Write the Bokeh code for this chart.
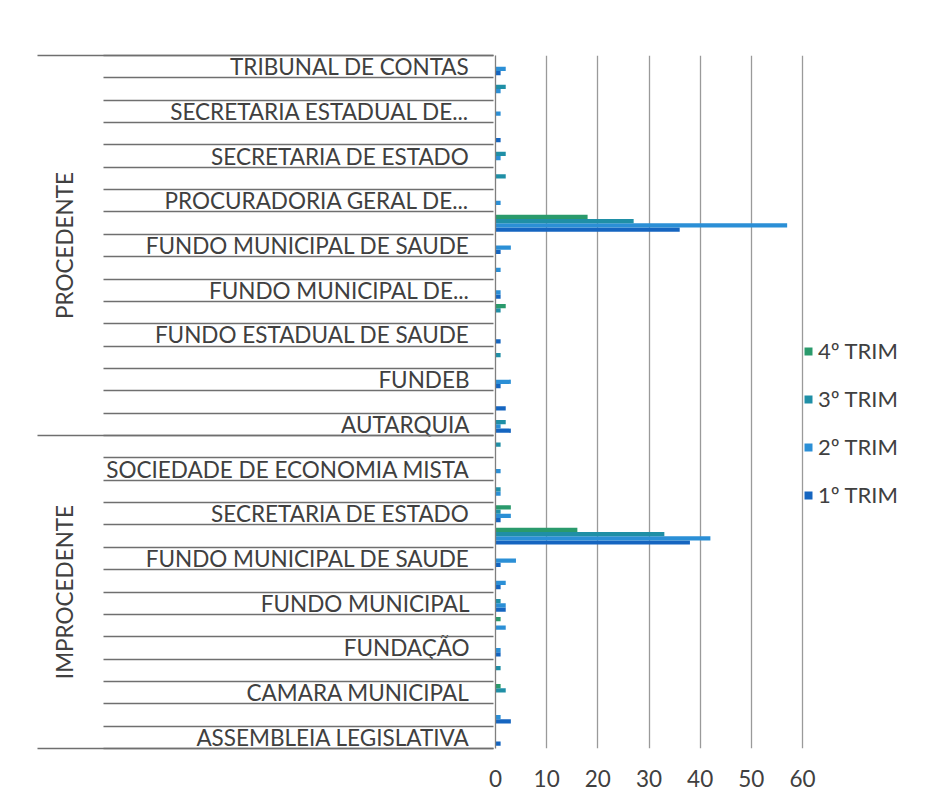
from bokeh.plotting import figure
from bokeh.models import Range1d, FixedTicker, LinearAxis, Legend, LegendItem, ColumnDataSource
from bokeh.transform import dodge
from bokeh.embed import file_html
from bokeh.resources import INLINE

# ---- data (bottom -> top, as drawn) ----
groups = ["IMPROCEDENTE"] * 14 + ["PROCEDENTE"] * 17
categories = [
    # IMPROCEDENTE
    "ASSEMBLEIA LEGISLATIVA", "AUTARQUIA", "CAMARA MUNICIPAL", "EMPRESA PUBLICA",
    "FUNDAÇÃO", "FUNDEB", "FUNDO MUNICIPAL", "FUNDO MUNICIPAL DE PREVIDENCIA",
    "FUNDO MUNICIPAL DE SAUDE", "PREFEITURA MUNICIPAL", "SECRETARIA DE ESTADO",
    "SECRETARIA ESTADUAL DE SAUDE", "SOCIEDADE DE ECONOMIA MISTA", "TRIBUNAL DE CONTAS",
    # PROCEDENTE
    "AUTARQUIA", "CAMARA MUNICIPAL", "FUNDEB", "FUNDO DE PREVIDENCIA",
    "FUNDO ESTADUAL DE SAUDE", "FUNDO MUNICIPAL", "FUNDO MUNICIPAL DE...",
    "FUNDO MUNICIPAL DE PREVIDENCIA", "FUNDO MUNICIPAL DE SAUDE", "PREFEITURA MUNICIPAL",
    "PROCURADORIA GERAL DE...", "SECRETARIA DA FAZENDA", "SECRETARIA DE ESTADO",
    "SECRETARIA DE ESTADO DE SAUDE", "SECRETARIA ESTADUAL DE...",
    "SOCIEDADE DE ECONOMIA MISTA", "TRIBUNAL DE CONTAS",
]
trim1 = [1, 3, 0, 0, 1, 0, 2, 1, 1, 38, 1, 0, 0, 0,
         3, 2, 1, 0, 1, 0, 1, 0, 1, 36, 0, 0, 0, 1, 0, 0, 1]
trim2 = [0, 1, 0, 0, 1, 2, 2, 2, 4, 42, 3, 1, 1, 0,
         1, 0, 3, 0, 0, 0, 1, 1, 3, 57, 1, 0, 1, 0, 1, 1, 2]
trim3 = [0, 0, 2, 1, 0, 0, 1, 0, 0, 33, 1, 1, 0, 1,
         2, 0, 0, 1, 0, 1, 0, 0, 0, 27, 0, 2, 2, 0, 0, 2, 0]
trim4 = [0, 0, 1, 0, 0, 1, 0, 0, 0, 16, 3, 0, 0, 0,
         0, 0, 0, 0, 0, 2, 0, 0, 0, 18, 0, 0, 0, 0, 0, 0, 0]
series_names = ["1º TRIM", "2º TRIM", "3º TRIM", "4º TRIM"]
colors = ["#1565c0", "#2b8fd6", "#1f8fa6", "#2a9a6c"]
x_ticks = [0, 10, 20, 30, 40, 50, 60]

FONT = "Lato"
TEXT = "#404040"
LINE = "#6f6f6f"
FS = "22.5px"
LABEL_STANDOFF = 26
LABEL_AREA = 390      # standoff + widest category label, in px
GROUP_EXT = 66
W, H = 914, 791
LEFT, TOP, FRAME_H = 495, 55, 693
PLOT_W = 307                      # px from value 0 to value 60
FRAME_W = W - LEFT                # frame also holds the legend strip on the right
X_MAX = x_ticks[-1]
X_END = X_MAX * FRAME_W / PLOT_W

n = len(categories)
ypos = list(range(n))
src = ColumnDataSource(dict(y=ypos, t1=trim1, t2=trim2, t3=trim3, t4=trim4))

p = figure(width=W, height=H, output_backend="svg", toolbar_location=None,
           x_range=Range1d(0, X_END), y_range=Range1d(-0.5, n - 0.5),
           min_border_left=LEFT, min_border_right=0,
           min_border_top=TOP, min_border_bottom=H - TOP - FRAME_H)
p.outline_line_color = None
p.background_fill_color = "white"
p.border_fill_color = "white"

bar_h = 0.19
offsets = [-0.285, -0.095, 0.095, 0.285]
renderers = []
for col, off, c in zip(["t1", "t2", "t3", "t4"], offsets, colors):
    r = p.hbar(y=dodge("y", off, range=p.y_range), right=col, left=0, height=bar_h,
               source=src, fill_color=c, line_color=None)
    renderers.append(r)

# x axis
p.xaxis.ticker = FixedTicker(ticks=x_ticks)
p.xaxis.axis_line_color = None
p.xaxis.major_tick_line_color = None
p.xaxis.minor_tick_line_color = None
p.xaxis.major_label_text_font = FONT
p.xaxis.major_label_text_font_size = FS
p.xaxis.major_label_text_color = TEXT
p.xaxis.major_label_standoff = 15

p.xgrid.ticker = FixedTicker(ticks=x_ticks)
p.xgrid.grid_line_color = "#9a9a9a"
p.xgrid.grid_line_width = 1.3
p.ygrid.visible = False

# inner (category label) y axis
label_idx = [i for i in range(n) if i % 2 == 0]
boundaries = [k - 0.5 for k in range(n + 1)]
yax = p.yaxis[0]
yax.ticker = FixedTicker(ticks=label_idx)
yax.major_label_overrides = {i: categories[i] for i in label_idx}
yax.major_tick_line_color = None
yax.minor_tick_line_color = None
yax.major_tick_out = 0
yax.major_tick_in = 0
yax.axis_line_color = "#7f7f7f"
yax.axis_line_width = 1.3
yax.major_label_standoff = LABEL_STANDOFF
yax.major_label_text_font = FONT
yax.major_label_text_font_size = FS
yax.major_label_text_color = TEXT

# second axis: category boundary lines drawn inward across the label area
bax = LinearAxis(ticker=FixedTicker(ticks=boundaries))
bax.major_label_overrides = {b: "" for b in boundaries}
bax.axis_line_color = None
bax.major_tick_line_color = LINE
bax.major_tick_line_width = 1.3
bax.major_tick_in = LABEL_AREA
bax.major_tick_out = 0
bax.minor_tick_line_color = None
bax.major_label_standoff = 0
bax.major_label_text_font_size = "1px"
p.add_layout(bax, "left")

# outer axis: group names + longer group boundary lines
uniq = []
for g in groups:
    if g not in uniq:
        uniq.append(g)
centers = {}
for g in uniq:
    idx = [i for i, gg in enumerate(groups) if gg == g]
    centers[(min(idx) + max(idx)) / 2] = g
group_bounds = [-0.5, n - 0.5] + [i + 0.5 for i in range(n - 1) if groups[i] != groups[i + 1]]
gax = LinearAxis(ticker=FixedTicker(ticks=list(centers.keys()), minor_ticks=group_bounds))
gax.major_label_overrides = centers
gax.major_label_orientation = "vertical"
gax.axis_line_color = None
gax.major_tick_line_color = None
gax.major_tick_out = 0
gax.major_tick_in = 0
gax.minor_tick_line_color = LINE
gax.minor_tick_line_width = 1.3
gax.minor_tick_in = LABEL_AREA
gax.minor_tick_out = GROUP_EXT
gax.major_label_standoff = -41
gax.major_label_text_font = FONT
gax.major_label_text_font_size = FS
gax.major_label_text_color = TEXT
p.add_layout(gax, "left")

# legend, just right of the 60 gridline
items = [LegendItem(label=series_names[i], renderers=[renderers[i]]) for i in (3, 2, 1, 0)]
legend = Legend(items=items, location=(PLOT_W + 1, 240), orientation="vertical",
                border_line_color=None, background_fill_alpha=0,
                label_text_font=FONT, label_text_font_size="22px", label_text_color=TEXT,
                glyph_width=10, glyph_height=10, label_standoff=5, spacing=21,
                padding=2, margin=0)
p.add_layout(legend)

open("out.html", "w").write(file_html(p, INLINE))
